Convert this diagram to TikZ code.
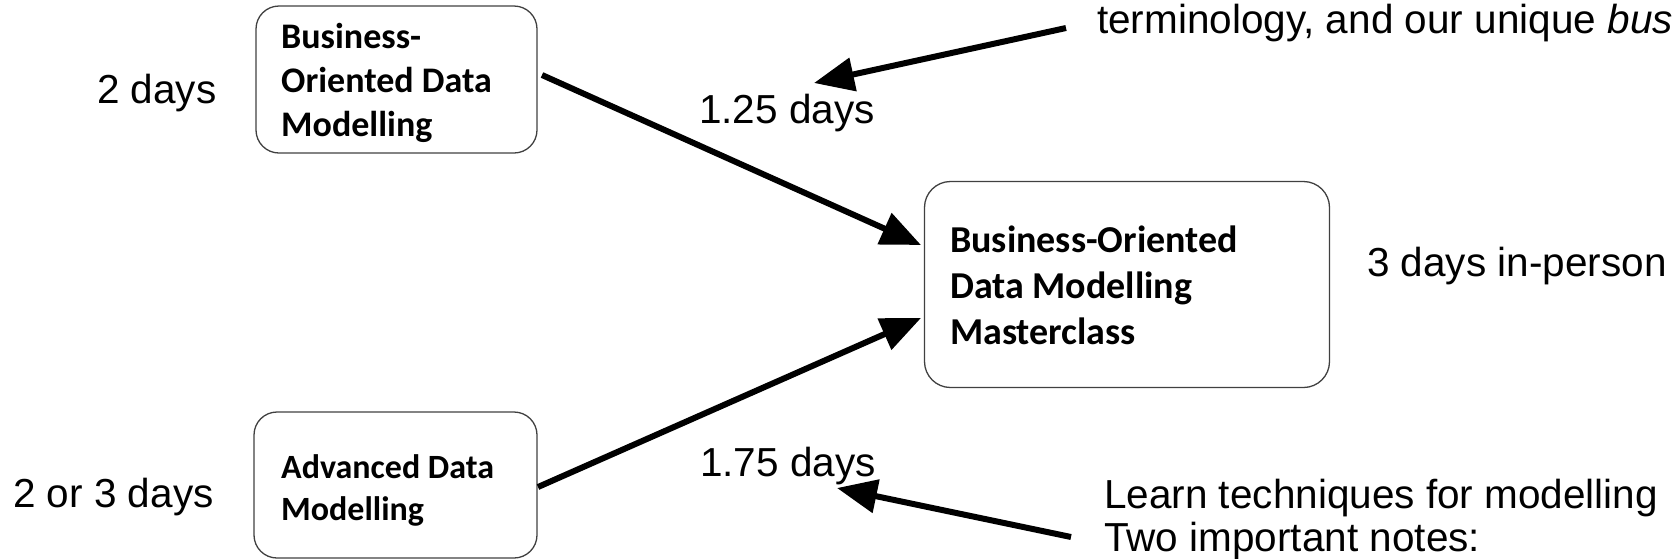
\documentclass[tikz,border=0pt]{standalone}
\usepackage{fontspec}
\setmainfont{Liberation Sans}
\newfontfamily\calibrifont{Carlito}
\usetikzlibrary{arrows.meta}
\begin{document}
\begin{tikzpicture}[x=1pt,y=-1pt,
  box/.style={draw=black!75, line width=1.3pt, rounded corners=23pt, inner sep=0pt},
  boxtext/.style={font=\calibrifont\bfseries\fontsize{36}{43}\selectfont, anchor=base west, inner sep=0pt},
  smalltext/.style={font=\calibrifont\bfseries\fontsize{34}{41}\selectfont, anchor=base west, inner sep=0pt},
  bigtext/.style={font=\calibrifont\bfseries\fontsize{38}{46}\selectfont, anchor=base west, inner sep=0pt},
  plain/.style={font=\fontsize{40.5}{45}\selectfont, anchor=base west, inner sep=0pt},
  bigarrow/.style={line width=6pt, -{Triangle[length=40pt,width=33pt]}}]
\useasboundingbox (0,0) rectangle (1674,558);
\clip (0,0) rectangle (1674,558);

% boxes
\node[box, minimum width=281pt, minimum height=147pt] (b1) at (396.5,79.5) {};
\node[box, minimum width=405pt, minimum height=206pt, rounded corners=26pt] (b2) at (1127,284.5) {};
\node[box, minimum width=283pt, minimum height=146pt] (b3) at (395.5,485) {};

% box texts
\node[boxtext] (b1l1) at (281,48) {Business-};
\node[boxtext] (b1l2) at (281,92) {Oriented Data};
\node[boxtext] (b1l3) at (281,136) {Modelling};

\node[bigtext] (b2l1) at (950,252) {Business-Oriented};
\node[bigtext] (b2l2) at (950,298) {Data Modelling};
\node[bigtext] (b2l3) at (950,344) {Masterclass};

\node[smalltext] (b3l1) at (281,478) {Advanced Data};
\node[smalltext] (b3l2) at (281,520) {Modelling};

% labels
\node[plain] (d1) at (97,103) {2 days};
\node[plain] (d3) at (13,507) {2 or 3 days};
\node[plain] (d125) at (699,123) {1.25 days};
\node[plain] (d175) at (700,476) {1.75 days};
\node[plain] (d2) at (1367,276) {3 days in-person};
\node[plain] (t1) at (1097,33) {terminology, and our unique \textit{bus}};
\node[plain] (t2) at (1104,508) {Learn techniques for modelling};
\node[plain] (t3) at (1104,551) {Two important notes:};

% connector end points
\coordinate (c1s) at (542,75);
\coordinate (c1e) at (921,245);
\coordinate (c2s) at (538,487);
\coordinate (c2e) at (921,318);
\coordinate (aAs) at (1066,28);
\coordinate (aAe) at (814,83);
\coordinate (aBs) at (1071,537);
\coordinate (aBe) at (837,488);

\draw[bigarrow] (c1s) -- (c1e);
\draw[bigarrow] (c2s) -- (c2e);
\draw[bigarrow] (aAs) -- (aAe);
\draw[bigarrow] (aBs) -- (aBe);
\end{tikzpicture}
\end{document}
